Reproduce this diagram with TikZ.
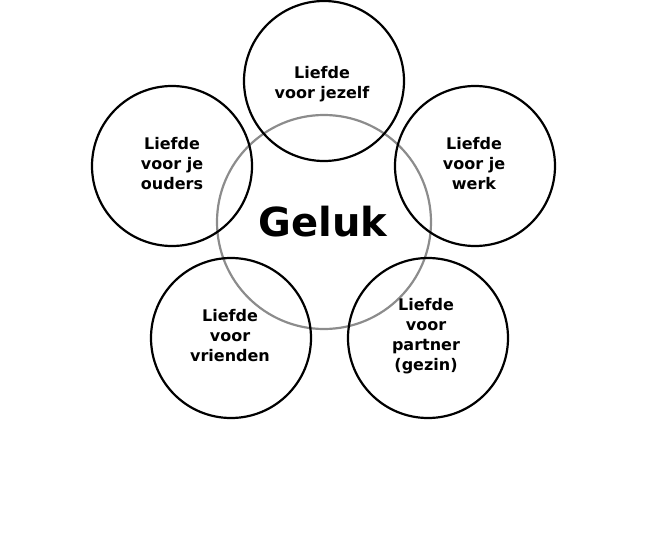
\documentclass[tikz,border=0pt]{standalone}
\usepackage{fontspec}
\setmainfont{DejaVu Sans}
\begin{document}
\begin{tikzpicture}[x=1pt,y=-1pt,
  ring/.style={circle,draw=black,line width=2.2pt,minimum size=160pt,inner sep=0pt},
  lbl/.style={align=center,font=\bfseries\fontsize{16}{20}\selectfont}]
\useasboundingbox (0,0) rectangle (646,536);
\node[circle,draw=gray!90,line width=2.2pt,minimum size=214pt,inner sep=0pt] (g) at (324,222) {};
\node[ring] (t) at (324,81) {};
\node[ring] (l) at (172,166) {};
\node[ring] (r) at (475,166) {};
\node[ring] (bl) at (231,338) {};
\node[ring] (br) at (428,338) {};
\node[lbl] at (322,84) {Liefde\\voor jezelf};
\node[lbl] at (172,164) {Liefde\\voor je\\ouders};
\node[lbl] at (474,164) {Liefde\\voor je\\werk};
\node[lbl] at (230,336) {Liefde\\voor\\vrienden};
\node[lbl] at (426,336) {Liefde\\voor\\partner\\(gezin)};
\node[font=\bfseries\fontsize{40}{44}\selectfont] at (323,222) {Geluk};
\end{tikzpicture}
\end{document}
